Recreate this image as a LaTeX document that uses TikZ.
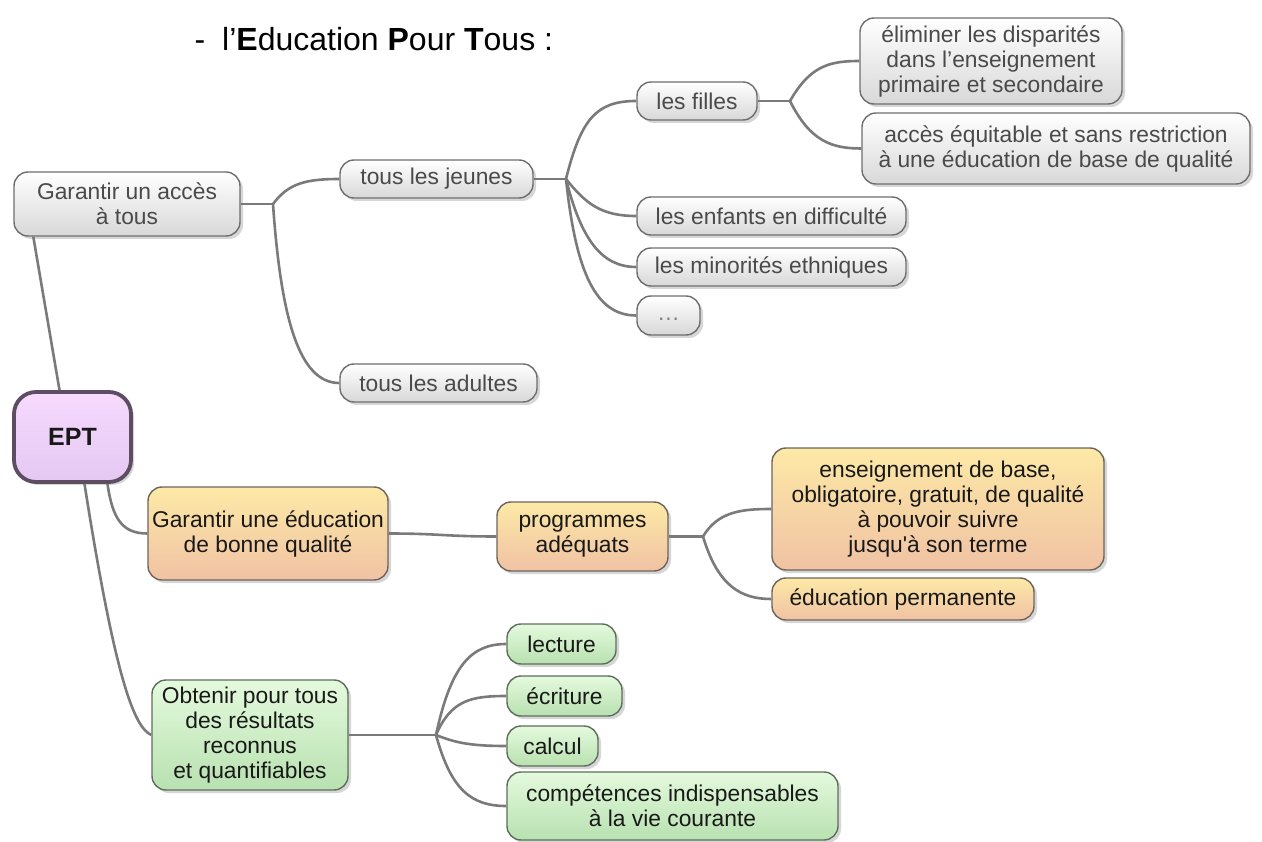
\documentclass[tikz,border=0pt]{standalone}
\usepackage{fontspec}
\setmainfont{Liberation Sans}
\usetikzlibrary{shadows,calc}
\definecolor{gborder}{HTML}{6E6E6E}
\definecolor{gbot}{HTML}{D8D8D8}
\definecolor{gtext}{HTML}{4A4A4A}
\definecolor{otop}{HTML}{FDE9A6}
\definecolor{obot}{HTML}{F0C2A4}
\definecolor{oborder}{HTML}{6E645C}
\definecolor{grtop}{HTML}{E4FADD}
\definecolor{grbot}{HTML}{B8E1B0}
\definecolor{grborder}{HTML}{5E6E5C}
\definecolor{ptop}{HTML}{F7DAFD}
\definecolor{pbot}{HTML}{E4C8F3}
\definecolor{pborder}{HTML}{5D4D62}
\definecolor{linkc}{HTML}{7A7A7A}
\begin{document}
\begin{tikzpicture}[x=1pt,y=-1pt,
  box/.style={draw, rounded corners=14pt, line width=1.4pt, align=center, inner sep=0pt,
    font=\fontsize{22.8}{25}\selectfont,
    drop shadow={shadow xshift=3pt, shadow yshift=-3pt, opacity=0.16, fill=black}},
  gbox/.style={box, draw=gborder, top color=white, bottom color=gbot, text=gtext},
  obox/.style={box, draw=oborder, top color=otop, bottom color=obot, text=black!90},
  grbox/.style={box, draw=grborder, top color=grtop, bottom color=grbot, text=black!90},
  eptbox/.style={box, draw=pborder, line width=3.8pt, rounded corners=22pt, top color=ptop, bottom color=pbot,
    text=black!90, font=\fontsize{25}{30}\selectfont\bfseries},
  link/.style={draw=linkc, line width=2.6pt},
  titletext/.style={inner sep=0pt, font=\fontsize{32}{38}\selectfont}
]
\useasboundingbox (0,0) rectangle (1262,842);

% title
\node[titletext, anchor=base] (dash) at (200,51) {-};
\node[titletext, anchor=base west] (title) at (222,51) {l’\textbf{E}ducation \textbf{P}our \textbf{T}ous :};

% gray nodes
\node[gbox, minimum width=262pt, minimum height=86pt] (elim) at (991,61) {éliminer les disparités\\dans l’enseignement\\primaire et secondaire};
\node[gbox, minimum width=388pt, minimum height=71pt] (acces) at (1056,148.5) {accès équitable et sans restriction\\à une éducation de base de qualité};
\node[gbox, minimum width=120pt, minimum height=38pt] (filles) at (697,101) {les filles};
\node[gbox, minimum width=193pt, minimum height=38pt] (jeunes) at (436.5,179) {tous les jeunes};
\node[gbox, minimum width=226pt, minimum height=64pt] (garacc) at (127,204) {Garantir un accès\\à tous};
\node[gbox, minimum width=269pt, minimum height=38pt] (enfants) at (771.5,216) {les enfants en difficulté};
\node[gbox, minimum width=269pt, minimum height=38pt] (minor) at (771.5,267) {les minorités ethniques};
\node[gbox, minimum width=63pt, minimum height=39pt] (dots) at (668.5,315.5) {\strut\textcolor{gtext!70}{…}};
\node[gbox, minimum width=197pt, minimum height=38pt] (adultes) at (438.5,383) {tous les adultes};

% central node
\node[eptbox, minimum width=117pt, minimum height=90pt] (ept) at (72.5,437) {EPT};

% orange nodes
\node[obox, minimum width=240pt, minimum height=93pt] (gared) at (268,533.5) {Garantir une éducation\\de bonne qualité};
\node[obox, minimum width=171pt, minimum height=69pt] (prog) at (582.5,536.5) {programmes\\adéquats};
\node[obox, minimum width=332pt, minimum height=122pt] (ens) at (938,509) {enseignement de base,\\obligatoire, gratuit, de qualité\\à pouvoir suivre\\jusqu\textquotesingle à son terme};
\node[obox, minimum width=262pt, minimum height=42pt] (perm) at (903,599) {éducation permanente};

% green nodes
\node[grbox, minimum width=196pt, minimum height=110pt] (obt) at (250,735) {Obtenir pour tous\\des résultats\\reconnus\\et quantifiables};
\node[grbox, minimum width=109pt, minimum height=40pt] (lect) at (561.5,644) {lecture};
\node[grbox, minimum width=115pt, minimum height=40pt] (ecr) at (564.5,696) {écriture};
\node[grbox, minimum width=91pt, minimum height=40pt] (calc) at (552.5,746) {calcul};
\node[grbox, minimum width=331pt, minimum height=68pt] (comp) at (672.5,806) {compétences indispensables\\à la vie courante};

% junctions
\coordinate (j1) at (273,204);
\coordinate (j2) at (566,179);
\coordinate (j3) at (790,101);
\coordinate (j4) at (703,536.5);
\coordinate (j5) at (436,735);

% links from EPT
\draw[link] ([xshift=-13pt]ept.north) -- ([xshift=20pt]garacc.south west);
\draw[link] ([xshift=35pt]ept.south) .. controls +(5,35) and +(-25,0) .. (gared.west);
\draw[link] ([xshift=12pt]ept.south) .. controls +(30,190) and +(-18,-8) .. (obt.west);

% garantir un acces
\draw[link] (garacc.east) -- (j1);
\draw[link] (j1) .. controls +(15,-20) and +(-35,0) .. (jeunes.west);
\draw[link] (j1) .. controls +(8,115) and +(-40,0) .. (adultes.west);

% tous les jeunes
\draw[link] (jeunes.east) -- (j2);
\draw[link] (j2) .. controls +(15,-60) and +(-40,0) .. (filles.west);
\draw[link] (j2) .. controls +(20,25) and +(-35,0) .. (enfants.west);
\draw[link] (j2) .. controls +(15,60) and +(-35,0) .. (minor.west);
\draw[link] (j2) .. controls +(10,95) and +(-40,0) .. (dots.west);

% les filles
\draw[link] (filles.east) -- (j3);
\draw[link] (j3) .. controls +(20,-35) and +(-30,0) .. (elim.west);
\draw[link] (j3) .. controls +(20,40) and +(-30,0) .. (acces.west);

% qualite
\draw[link] (gared.east) .. controls +(50,0) and +(-50,0) .. (prog.west);
\draw[link] (prog.east) -- (j4);
\draw[link] (j4) .. controls +(15,-25) and +(-30,0) .. (ens.west);
\draw[link] (j4) .. controls +(15,50) and +(-30,0) .. (perm.west);

% resultats
\draw[link] (obt.east) -- (j5);
\draw[link] (j5) .. controls +(15,-70) and +(-35,0) .. (lect.west);
\draw[link] (j5) .. controls +(15,-35) and +(-35,0) .. (ecr.west);
\draw[link] (j5) .. controls +(20,8) and +(-35,0) .. (calc.west);
\draw[link] (j5) .. controls +(15,55) and +(-35,0) .. (comp.west);
\end{tikzpicture}
\end{document}
